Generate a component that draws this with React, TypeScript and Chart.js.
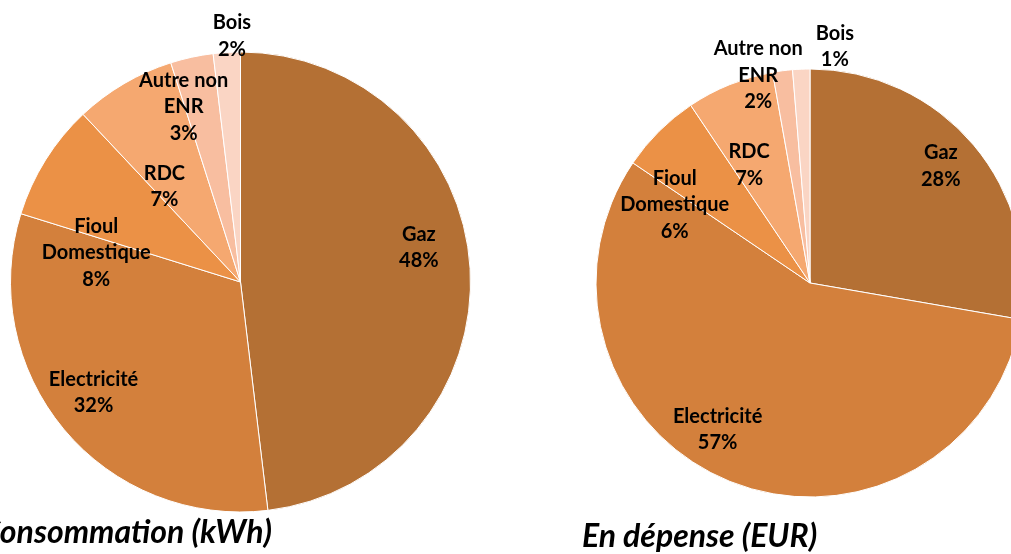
import React, { useEffect, useRef } from "react";
import { Chart, registerables } from "chart.js";

Chart.register(...registerables);

const categories: (string | string[])[] = ["Gaz", "Electricité", ["Fioul", "Domestique"], "RDC", ["Autre non", "ENR"], "Bois"];
const consumptionValues = [48.1, 31.7, 8.2, 7.1, 3.0, 1.9];
const expenseValues = [27.7, 56.7, 6.1, 6.6, 1.5, 1.3];
const sliceColors = ["#B47034", "#D3803C", "#EB9146", "#F5A870", "#F8BEA0", "#FAD5C4"];
const consumptionTitle = "Consommation (kWh)";
const expenseTitle = "En dépense (EUR)";

// label placement: [radius factor, angle in degrees clockwise from top]
const consumptionLabelPlaces = [[0.79, 79], [0.8, 233], [0.64, 281.4], [0.53, 321.4], [0.8, 342], [1.07, 358]];
const expenseLabelPlaces = [[0.82, 48.2], [0.81, 212.2], [0.73, 300], [0.62, 332.7], [1.0, 346], [1.11, 6]];

const FONT = "Lato, 'Open Sans', sans-serif";

type PieProps = {
  values: number[];
  places: number[][];
  title: string;
  titleDx: number;
  titleDy: number;
  titleAlign: CanvasTextAlign;
  left: number;
  width: number;
  padding: { left: number; right: number; top: number; bottom: number };
  radius: number;
};

function PieChart(p: PieProps) {
  const ref = useRef<HTMLCanvasElement | null>(null);
  useEffect(() => {
    if (!ref.current) return;
    const labelPlugin = {
      id: "sliceLabels",
      afterDatasetsDraw(chart: any) {
        const { ctx } = chart;
        const meta = chart.getDatasetMeta(0);
        const data = chart.data.datasets[0].data as number[];
        const total = data.reduce((a, b) => a + b, 0);
        ctx.save();
        ctx.font = `bold 20px ${FONT}`;
        ctx.fillStyle = "#000";
        ctx.textAlign = "center";
        ctx.textBaseline = "middle";
        meta.data.forEach((arc: any, i: number) => {
          const { x, y, outerRadius } = arc.getProps(["x", "y", "outerRadius"], true);
          const place = p.places[i];
          const a = ((place[1] - 90) * Math.PI) / 180;
          const cx = x + Math.cos(a) * outerRadius * place[0];
          const cy = y + Math.sin(a) * outerRadius * place[0];
          const lab = chart.data.labels[i];
          const lines: string[] = (Array.isArray(lab) ? [...lab] : [lab]).concat(Math.round((data[i] / total) * 100) + "%");
          const lh = 26.5;
          lines.forEach((t, k) => ctx.fillText(t, cx, cy + (k - (lines.length - 1) / 2) * lh));
        });
        const c = meta.data[0];
        ctx.font = `italic bold 32px ${FONT}`;
        ctx.textAlign = p.titleAlign;
        ctx.textBaseline = "alphabetic";
        ctx.fillText(p.title, c.x + p.titleDx, c.y + p.titleDy);
        ctx.restore();
      },
    };
    const chart = new Chart(ref.current, {
      type: "pie",
      data: {
        labels: categories as any,
        datasets: [
          {
            data: p.values,
            backgroundColor: sliceColors,
            borderColor: "#ffffff",
            borderWidth: 1,
            radius: p.radius,
          } as any,
        ],
      },
      options: {
        responsive: false,
        animation: false,
        layout: { padding: p.padding },
        plugins: { legend: { display: false }, tooltip: { enabled: false }, title: { display: false } },
      },
      plugins: [labelPlugin],
    });
    return () => chart.destroy();
  }, []);
  return (
    <canvas
      ref={ref}
      width={p.width}
      height={554}
      style={{ position: "absolute", left: p.left, top: 0, width: p.width, height: 554 }}
    />
  );
}

export default function App() {
  return (
    <div style={{ position: "absolute", left: 0, top: 0, width: 1011, height: 554, overflow: "hidden", background: "#fff" }}>
      <PieChart
        values={consumptionValues}
        places={consumptionLabelPlaces}
        title={consumptionTitle}
        titleDx={31.5}
        titleDy={261}
        titleAlign="right"
        left={0}
        width={540}
        padding={{ left: 10, right: 69, top: 52, bottom: 42 }}
        radius={230}
      />
      <PieChart
        values={expenseValues}
        places={expenseLabelPlaces}
        title={expenseTitle}
        titleDx={-228}
        titleDy={264}
        titleAlign="left"
        left={540}
        width={540}
        padding={{ left: 56, right: 56, top: 69, bottom: 57 }}
        radius={214}
      />
    </div>
  );
}
